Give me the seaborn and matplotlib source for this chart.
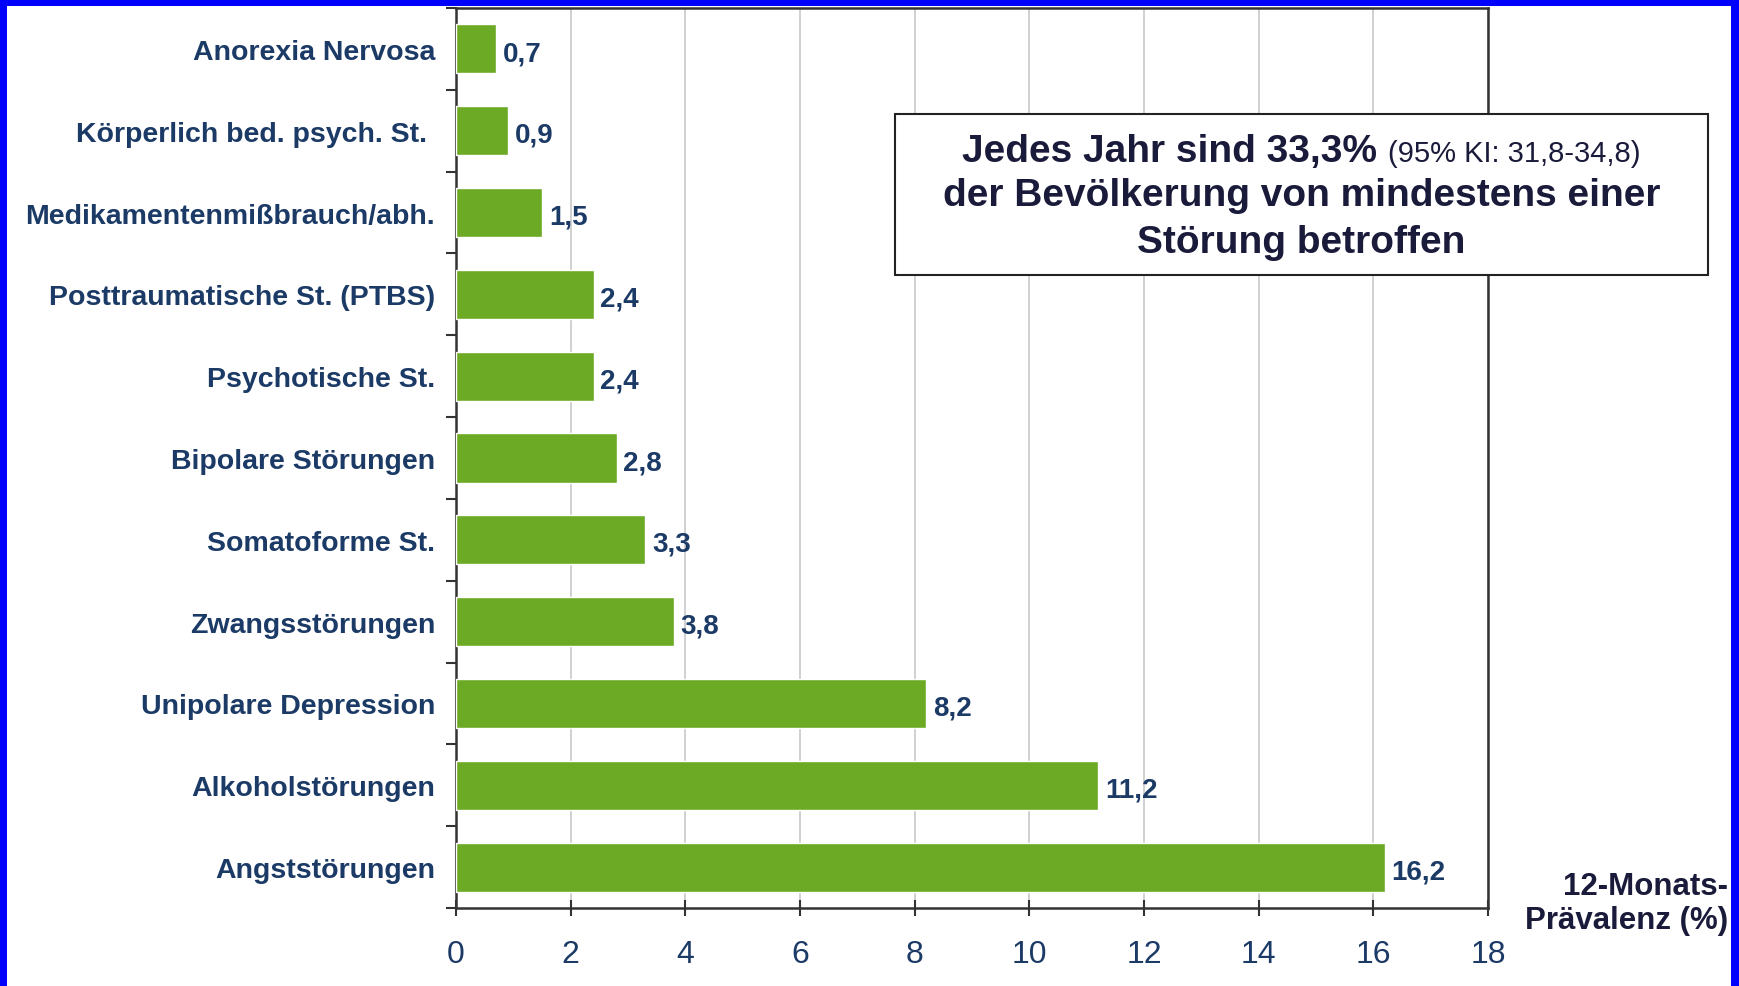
import numpy as np
import pandas as pd
import matplotlib
matplotlib.use("Agg")
import matplotlib.pyplot as plt
import seaborn as sns
from matplotlib.patches import Rectangle

# data, top to bottom as in the chart
disorders = [
    "Anorexia Nervosa",
    "Körperlich bed. psych. St. ",
    "Medikamentenmißbrauch/abh.",
    "Posttraumatische St. (PTBS)",
    "Psychotische St.",
    "Bipolare Störungen",
    "Somatoforme St.",
    "Zwangsstörungen",
    "Unipolare Depression",
    "Alkoholstörungen",
    "Angststörungen",
]
prevalence = [0.7, 0.9, 1.5, 2.4, 2.4, 2.8, 3.3, 3.8, 8.2, 11.2, 16.2]
x_ticks = [0, 2, 4, 6, 8, 10, 12, 14, 16, 18]

GREEN = "#6caa26"
NAVY = "#1b3a66"
DARK = "#1a1a3a"
BLUE = "#0000ff"
W, H = 1739, 987

sns.set_theme(style="white")
plt.rcParams["font.family"] = ["Liberation Sans", "DejaVu Sans"]

df = pd.DataFrame({"disorder": disorders, "prevalence": prevalence})

fig = plt.figure(figsize=(W / 100, H / 100), dpi=100)
ax = fig.add_axes([456 / W, 1 - 909 / H, (1488 - 456) / W, (909 - 9) / H])

sns.barplot(data=df, x="prevalence", y="disorder", color=GREEN,
            width=0.6, saturation=1, ax=ax, zorder=3)

ax.set_xlim(0, 18)
ax.set_ylim(len(disorders) - 0.5, -0.5)
ax.set_xticks(x_ticks)
ax.set_xticklabels([str(t) for t in x_ticks], fontsize=23, color=NAVY)
ax.xaxis.grid(True, color="#c8c8c8", linewidth=1.2, zorder=0)
ax.yaxis.grid(False)
ax.set_axisbelow(True)

# category labels on bar centres, tick marks at category boundaries
ax.tick_params(axis="y", which="major", length=0, pad=15)
ax.set_yticks(np.arange(len(disorders)))
ax.set_yticklabels(disorders, fontsize=20.5, fontweight="bold", color=NAVY)
ax.set_yticks(np.arange(len(disorders) + 1) - 0.5, minor=True)
ax.tick_params(axis="y", which="minor", length=7, width=1.5, color="#333333", left=True)
ax.tick_params(axis="x", which="major", direction="inout", length=12, width=1.5,
               color="#333333", pad=16, bottom=True)

for side in ["left", "right", "top", "bottom"]:
    ax.spines[side].set_visible(True)
    ax.spines[side].set_color("#333333")
    ax.spines[side].set_linewidth(1.8)

ax.set_xlabel("")
ax.set_ylabel("")

for i, v in enumerate(prevalence):
    ax.text(v + 0.12, i + 0.05, f"{v:.1f}".replace(".", ","), va="center", ha="left",
            fontsize=20, fontweight="bold", color=NAVY)

# axis title at lower right
fig.text(1 - 11 / W, 1 - 904 / H, "12-Monats-\nPrävalenz (%)", ha="right", va="center",
         fontsize=22.5, fontweight="bold", color=DARK, linespacing=1.2)

# annotation box
box_x0, box_y0 = 895 / W, 1 - 276 / H
box_w, box_h = (1708 - 895) / W, (276 - 115) / H
fig.patches.append(Rectangle((box_x0, box_y0), box_w, box_h, transform=fig.transFigure,
                             facecolor="white", edgecolor="#222222", linewidth=1.5,
                             zorder=5))
cx = box_x0 + box_w / 2
fig.text(1377 / W, 1 - 162 / H, "Jedes Jahr sind 33,3%", ha="right", va="baseline",
         fontsize=28, fontweight="bold", color=DARK, zorder=6)
fig.text(1388 / W, 1 - 162 / H, "(95% KI: 31,8-34,8)", ha="left", va="baseline",
         fontsize=21, color=DARK, zorder=6)
fig.text(cx, 1 - 196 / H, "der Bevölkerung von mindestens einer", ha="center", va="center",
         fontsize=28, fontweight="bold", color=DARK, zorder=6)
fig.text(cx, 1 - 243 / H, "Störung betroffen", ha="center", va="center",
         fontsize=28, fontweight="bold", color=DARK, zorder=6)

# blue frame on left, top and right
fig.patches.append(Rectangle((0, 0), 7 / W, 1, transform=fig.transFigure,
                             facecolor=BLUE, edgecolor="none", zorder=10))
fig.patches.append(Rectangle((0, 1 - 7 / H), 1, 7 / H, transform=fig.transFigure,
                             facecolor=BLUE, edgecolor="none", zorder=10))
fig.patches.append(Rectangle((1 - 8 / W, 0), 8 / W, 1, transform=fig.transFigure,
                             facecolor=BLUE, edgecolor="none", zorder=10))

fig.savefig("out.png", dpi=100)
